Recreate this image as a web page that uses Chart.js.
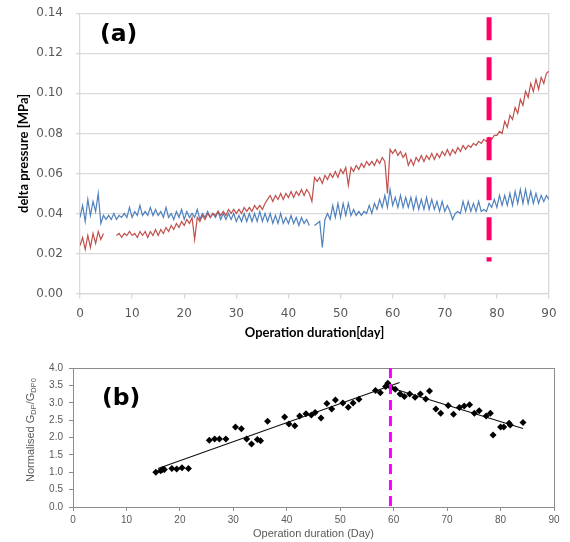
<!DOCTYPE html>
<html><head><meta charset="utf-8">
<script src="https://cdn.jsdelivr.net/npm/chart.js@4/dist/chart.umd.min.js"></script>
<style>
html,body{margin:0;padding:0;background:#fff;}
#wrap{position:relative;width:570px;height:542px;overflow:hidden;background:#fff;}
canvas{position:absolute;left:0;}
.tag{position:absolute;font-family:"DejaVu Sans";font-weight:bold;font-size:23.5px;line-height:23px;color:#000;}
#ytb{position:absolute;left:30px;top:430px;transform:translate(-50%,-50%) rotate(-90deg);white-space:nowrap;font-family:"Liberation Sans";font-size:11px;color:#595959;line-height:13px;}
#ytb sub{font-size:7.5px;vertical-align:-2px;line-height:0;}
</style></head>
<body><div id="wrap">
<canvas id="ca" width="570" height="345" style="top:0;width:570px;height:345px"></canvas>
<canvas id="cb" width="570" height="197" style="top:345px;width:570px;height:197px"></canvas>
<div class="tag" style="left:100px;top:22px">(a)</div>
<div class="tag" style="left:102px;top:386px">(b)</div>
<div id="ytb">Normalised G<sub>DP</sub>/G<sub>DP0</sub></div>
</div>
<script>
// ---- Panel (a): delta pressure, sampled every half day from day 0 to day 90 ----
const DAY_STEP = 0.5;
const redDelta = [
  .024,.028,.022,.029,.023,.030,.025,.031,.027,.030,
  null,null,null,null,.029,.030,.028,.030,.029,.031,
  .029,.030,.028,.031,.029,.031,.028,.031,.029,.032,
  .029,.032,.030,.033,.031,.034,.032,.035,.033,.036,
  .034,.037,.035,.038,.027,.038,.036,.039,.037,.040,
  .038,.040,.039,.041,.039,.041,.039,.042,.040,.042,
  .040,.042,.040,.043,.041,.043,.041,.044,.042,.044,
  .042,.045,.047,.049,.046,.049,.047,.050,.047,.050,
  .048,.051,.048,.051,.049,.052,.049,.052,.050,.046,
  .058,.056,.058,.055,.059,.057,.060,.058,.061,.058,
  .062,.060,.063,.054,.063,.061,.064,.062,.065,.063,
  .066,.064,.066,.064,.067,.065,.068,.066,.050,.072,
  .070,.072,.069,.071,.068,.070,.064,.067,.064,.068,
  .066,.069,.066,.069,.067,.070,.067,.070,.068,.071,
  .069,.072,.069,.072,.070,.073,.071,.074,.072,.074,
  .073,.075,.074,.076,.075,.077,.076,.078,.077,.079,
  .079,.081,.080,.086,.083,.089,.087,.093,.090,.097,
  .094,.101,.098,.105,.101,.107,.102,.108,.105,.110,
  .111
];
const blueDelta = [
  .038,.044,.036,.047,.039,.046,.041,.050,.035,.039,
  .037,.039,.037,.040,.037,.039,.038,.040,.038,.043,
  .038,.041,.039,.044,.039,.041,.039,.043,.039,.042,
  .039,.041,.038,.043,.038,.040,.037,.041,.038,.042,
  .037,.041,.038,.040,.038,.042,.037,.040,.038,.041,
  .038,.040,.038,.041,.037,.040,.037,.040,.037,.040,
  .036,.039,.036,.040,.036,.040,.036,.040,.036,.041,
  .036,.040,.036,.040,.035,.039,.035,.040,.035,.038,
  .035,.039,.035,.038,.034,.038,.035,.037,.034,null,
  .034,.035,.036,.023,.037,.040,.037,.044,.038,.045,
  .038,.045,.039,.045,.039,.042,.039,.041,.039,.041,
  .040,.044,.040,.045,.042,.047,.043,.049,.043,.052,
  .044,.048,.043,.049,.043,.048,.043,.048,.042,.048,
  .042,.047,.042,.048,.042,.047,.042,.046,.041,.046,
  .041,.044,.041,.037,.040,.041,.040,.046,.041,.046,
  .041,.045,.041,.046,.041,.042,.041,.045,.043,.047,
  .043,.049,.044,.049,.044,.050,.044,.051,.045,.052,
  .045,.052,.045,.051,.045,.050,.045,.049,.046,.049,
  .047
];
const markerDayA = 78.5;
const markerSpanA = [0.138, 0.016];
const yTicksA = [0, 0.02, 0.04, 0.06, 0.08, 0.10, 0.12, 0.14];

// ---- Panel (b): normalised G_DP / G_DP0 ----
const scatterDays = [15.5,16.4,16.8,17.1,18.5,19.4,20.4,21.6,25.5,26.5,27.4,28.6,
  30.4,31.5,32.5,33.4,34.5,35.1,36.4,39.6,40.4,41.5,42.4,43.6,44.6,45.3,46.4,
  47.5,48.4,49.1,50.5,51.5,52.4,53.5,56.6,57.5,58.5,58.9,59.5,60.3,61.2,62.0,
  63.0,64.0,65.0,66.0,66.7,67.9,68.8,70.2,71.2,72.3,73.2,74.2,75.1,76.0,
  77.3,78.1,78.6,80.0,80.6,81.6,81.8,84.2];
const scatterValues = [1.00,1.04,1.08,1.08,1.11,1.09,1.13,1.11,1.92,1.96,1.96,1.96,
  2.30,2.25,1.96,1.81,1.94,1.91,2.47,2.59,2.39,2.34,2.62,2.68,2.65,2.72,2.56,
  2.98,2.82,3.08,2.99,2.87,2.99,3.10,3.35,3.29,3.47,3.56,3.44,3.39,3.25,3.18,
  3.25,3.16,3.25,3.11,3.34,2.82,2.70,2.92,2.67,2.86,2.91,2.94,2.70,2.77,
  2.62,2.70,2.07,2.30,2.30,2.41,2.36,2.43];
const trendUpDays = [15.9, 61.1];
const trendUpValues = [1.11, 3.58];
const trendDownDays = [59.7, 84.2];
const trendDownValues = [3.42, 2.26];
const markerDayB = 59.4;
const markerSpanB = [4.0, 0.0];

// ---- build ----
const toPts = arr => arr.map((v, i) => ({x: i * DAY_STEP, y: v}));
const pair = (xs, ys) => xs.map((x, i) => ({x, y: ys[i]}));

Chart.defaults.font.family = 'DejaVu Sans';

new Chart(document.getElementById('ca'), {
  type: 'line',
  data: { datasets: [
    { data: [{x: markerDayA, y: markerSpanA[0]}, {x: markerDayA, y: markerSpanA[1]}],
      borderColor: '#FF0066', borderWidth: 5, borderDash: [23, 17], pointRadius: 0, order: 0 },
    { data: toPts(redDelta), borderColor: '#C0504D', borderWidth: 1.2, pointRadius: 0, spanGaps: false, order: 1 },
    { data: toPts(blueDelta), borderColor: '#4F81BD', borderWidth: 1.2, pointRadius: 0, spanGaps: false, order: 2 }
  ]},
  options: {
    responsive: false, animation: false, devicePixelRatio: 1,
    layout: { autoPadding: false, padding: { top: 13.3, right: 21, left: 0, bottom: 0 } },
    plugins: { legend: { display: false }, tooltip: { enabled: false } },
    elements: { line: { tension: 0 } },
    scales: {
      x: { type: 'linear', min: 0, max: 90,
        afterFit(s) { s.height = 51.5; s.paddingLeft = 0; s.paddingRight = 0; },
        ticks: { stepSize: 10, font: { family: 'DejaVu Sans', size: 12 }, color: '#595959', padding: 8, maxRotation: 0 },
        grid: { color: c => (c.tick && c.tick.value === 90) ? '#D9D9D9' : 'rgba(0,0,0,0)', tickColor: '#D9D9D9', tickLength: 5, lineWidth: 1.3 },
        border: { color: '#D9D9D9', width: 1.3 },
        title: { display: true, text: 'Operation duration[day]', font: { family: 'Lato', weight: 'bold', size: 13 }, color: '#000', padding: { top: 0, bottom: 4.5 } }
      },
      y: { type: 'linear', min: 0, max: 0.14,
        afterFit(s) { s.width = 80; s.paddingTop = 0; s.paddingBottom = 0; },
        afterBuildTicks(s) { s.ticks = yTicksA.map(v => ({value: v})); },
        ticks: { callback: v => v.toFixed(2), font: { family: 'DejaVu Sans', size: 12 }, color: '#595959', padding: 13 },
        grid: { color: '#D9D9D9', tickColor: '#D9D9D9', tickLength: 4, lineWidth: 1.3 },
        border: { color: '#D9D9D9', width: 1.3 },
        title: { display: true, text: 'delta pressure [MPa]', font: { family: 'Lato', weight: 'bold', size: 13 }, color: '#000', padding: { top: 16, bottom: 0 } }
      }
    }
  }
});

new Chart(document.getElementById('cb'), {
  type: 'scatter',
  data: { datasets: [
    { type: 'line', data: [{x: markerDayB, y: markerSpanB[0]}, {x: markerDayB, y: markerSpanB[1]}],
      borderColor: '#FF00FF', borderWidth: 3, borderDash: [10, 6], pointRadius: 0, order: 0 },
    { type: 'scatter', data: pair(scatterDays, scatterValues), pointStyle: 'rectRot', pointRadius: 3.5,
      backgroundColor: '#000', borderColor: '#000', borderWidth: 0, order: 1 },
    { type: 'line', data: pair(trendUpDays, trendUpValues), borderColor: '#111', borderWidth: 1.1, pointRadius: 0, order: 2 },
    { type: 'line', data: pair(trendDownDays, trendDownValues), borderColor: '#111', borderWidth: 1.1, pointRadius: 0, order: 2 }
  ]},
  options: {
    responsive: false, animation: false, devicePixelRatio: 1,
    layout: { autoPadding: false, padding: { top: 23, right: 16, left: 0, bottom: 0 } },
    plugins: { legend: { display: false }, tooltip: { enabled: false } },
    scales: {
      x: { type: 'linear', position: 'bottom', min: 0, max: 90,
        afterFit(s) { s.height = 35; s.paddingLeft = 0; s.paddingRight = 0; },
        ticks: { stepSize: 10, font: { family: 'Liberation Sans', size: 10 }, color: '#595959', padding: 3, maxRotation: 0 },
        grid: { drawOnChartArea: false, tickLength: 4, tickColor: '#8C8C8C' },
        border: { color: '#8C8C8C', width: 1 },
        title: { display: true, text: 'Operation duration (Day)', font: { family: 'Liberation Sans', size: 11 }, color: '#595959', padding: { top: 0, bottom: 1 } }
      },
      y: { type: 'linear', position: 'left', min: 0, max: 4,
        afterFit(s) { s.width = 73; s.paddingTop = 0; s.paddingBottom = 0; },
        ticks: { stepSize: 0.5, callback: v => v.toFixed(1), font: { family: 'Liberation Sans', size: 10 }, color: '#595959', padding: 6 },
        grid: { drawOnChartArea: false, tickLength: 4, tickColor: '#8C8C8C' },
        border: { color: '#8C8C8C', width: 1 }
      },
      xTop: { type: 'linear', position: 'top', min: 0, max: 90,
        afterFit(s) { s.height = 0; },
        ticks: { display: false }, grid: { display: false, drawTicks: false },
        border: { display: true, color: '#8C8C8C', width: 1 }
      },
      yRight: { type: 'linear', position: 'right', min: 0, max: 4,
        afterFit(s) { s.width = 0; },
        ticks: { display: false }, grid: { display: false, drawTicks: false },
        border: { display: true, color: '#8C8C8C', width: 1 }
      }
    }
  }
});
</script>
</body></html>
